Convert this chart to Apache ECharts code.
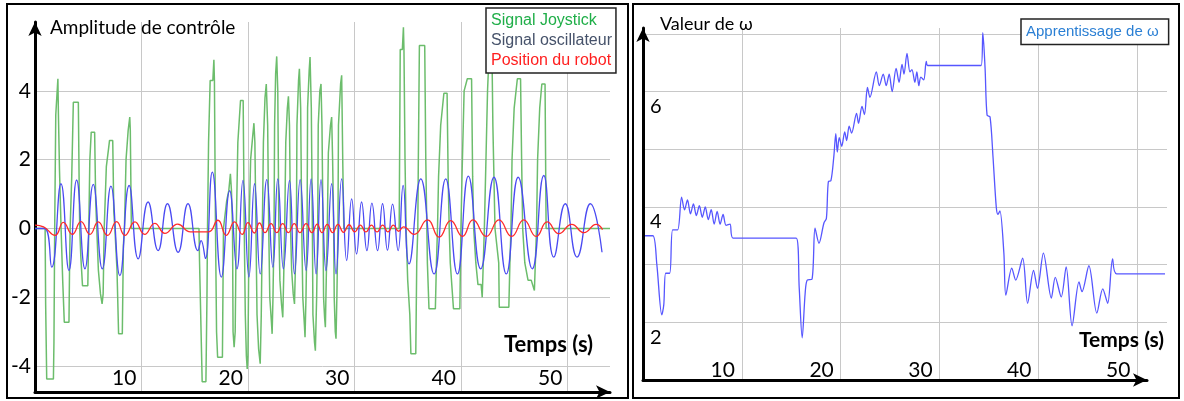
<!DOCTYPE html>
<html>
<head>
<meta charset="utf-8">
<script src="https://cdn.jsdelivr.net/npm/echarts@6/dist/echarts.min.js"></script>
<style>
html,body{margin:0;padding:0;background:#fff;}
#chart{width:1184px;height:401px;}
</style>
</head>
<body>
<div id="chart"></div>
<script>
// ---------- DATA ----------
// Left panel: time (s) / amplitude pairs
const joystick = [
 [0,0],[0.95,0],
 [1.0,-2.2],[1.1,-4.37],[1.73,-4.37],[1.78,-3.3],[1.85,0],
 [1.95,3.3],[2.1,3.3],[2.15,4.35],[2.2,3.3],[2.3,1.7],[2.45,0],
 [2.6,-1.5],[2.75,-2.72],[3.19,-2.72],[3.25,-1.0],[3.3,0],
 [3.45,1.5],[3.6,3.67],[4.07,3.67],[4.15,1.2],[4.2,0],
 [4.3,-0.8],[4.46,-1.66],[4.96,-1.66],[5.05,0],
 [5.15,2.0],[5.28,2.8],[5.6,2.8],[5.7,0.8],[5.8,0],
 [5.95,-1.2],[6.15,-1.9],[6.3,-2.19],[6.4,-1.9],[6.5,0],
 [6.7,1.8],[6.9,2.3],[7.0,2.56],[7.3,2.56],[7.4,0.5],[7.5,0],
 [7.7,-1.2],[7.85,-3.06],[8.2,-3.06],[8.3,-0.5],[8.4,0],
 [8.55,2.0],[8.75,2.85],[8.9,3.24],[8.95,2.85],[9.05,0],
 [15.4,0],
 [15.45,-0.93],[15.7,-4.45],[16.05,-4.45],[16.15,-2.0],[16.2,0],
 [16.3,2.5],[16.45,4.3],[16.7,4.3],[16.8,4.9],[16.85,4.3],[16.95,0],
 [17.05,-3.0],[17.15,-3.74],[17.6,-3.74],[17.7,0],
 [18.0,0.8],[18.2,1.1],[18.35,1.59],[18.45,1.1],[18.55,0],
 [18.6,-3.0],[18.7,-3.45],[18.8,-3.0],[18.9,0],
 [19.05,2.5],[19.3,3.72],[19.55,3.72],[19.65,0],
 [19.75,-2.5],[19.85,-3.7],[19.93,-4.08],[20.0,-3.7],[20.1,0],
 [20.25,2.0],[20.45,2.7],[20.56,3.06],[20.65,2.5],[20.75,0],
 [20.85,-2.5],[21.0,-3.5],[21.15,-3.93],[21.25,-2.5],[21.35,0],
 [21.45,2.5],[21.6,3.8],[21.72,4.2],[21.85,3.0],[21.95,0],
 [22.05,-2.0],[22.2,-2.7],[22.27,-3.06],[22.35,-2.0],[22.45,0],
 [22.5,3.0],[22.6,4.5],[22.7,5.0],[22.8,4.0],[22.9,0],
 [23.0,-1.5],[23.15,-2.2],[23.27,-2.58],[23.35,-1.5],[23.45,0],
 [23.55,2.5],[23.7,3.5],[23.8,3.84],[23.9,3.0],[24.0,0],
 [24.1,-1.2],[24.25,-1.9],[24.37,-2.19],[24.45,-1.2],[24.55,0],
 [24.6,3.0],[24.75,4.3],[24.83,4.64],[24.95,3.5],[25.05,0],
 [25.15,-2.0],[25.3,-2.8],[25.36,-3.16],[25.45,-2.0],[25.55,0],
 [25.6,3.5],[25.75,4.6],[25.83,4.98],[25.95,3.5],[26.05,0],
 [26.1,-2.5],[26.25,-3.3],[26.33,-3.55],[26.45,-2.0],[26.55,0],
 [26.6,3.0],[26.75,4.0],[26.86,4.2],[26.95,3.0],[27.05,0],
 [27.1,-2.0],[27.2,-2.6],[27.27,-2.87],[27.35,-1.5],[27.45,0],
 [27.55,2.2],[27.75,3.0],[27.86,3.24],[27.95,2.0],[28.05,0],
 [28.1,-2.0],[28.2,-3.0],[28.27,-3.2],[28.35,-2.0],[28.45,0],
 [28.5,3.0],[28.7,4.2],[28.8,4.45],[28.9,2.0],[29.0,0],
 [34.2,0],
 [34.25,2.5],[34.3,5.2],[34.5,5.2],[34.6,5.85],[34.65,5.2],[34.75,2.0],[34.85,0],
 [35.0,-1.5],[35.2,-2.5],[35.3,-3.64],[35.76,-3.64],[35.85,-1.0],[35.95,0],
 [36.0,2.0],[36.1,5.32],[36.6,5.32],[36.7,2.0],[36.8,0],
 [36.85,-1.0],[37.0,-2.33],[37.6,-2.33],[37.7,-1.0],[37.8,0],
 [37.9,1.5],[38.1,3.0],[38.4,3.93],[38.7,3.93],[38.8,1.5],[38.9,0],
 [39.0,-1.0],[39.3,-2.33],[39.9,-2.33],[40.0,0],
 [40.1,1.5],[40.3,4.0],[40.6,4.35],[41.0,4.35],[41.1,1.5],[41.2,0],
 [41.4,-1.0],[41.6,-1.63],[41.9,-1.63],[42.0,-2.0],[42.15,-2.0],[42.2,0],
 [42.35,2.0],[42.5,4.0],[42.7,5.5],[42.9,5.5],[43.0,3.0],[43.2,0],
 [43.55,-1.0],[43.6,-2.29],[44.5,-2.29],[44.6,-1.0],[44.7,0],
 [44.8,2.0],[45.0,3.5],[45.3,4.35],[45.6,4.35],[45.7,2.0],[45.8,0],
 [46.0,-1.0],[46.3,-1.5],[46.6,-1.5],[46.9,-1.8],[47.0,-1.8],[47.1,0],
 [47.2,2.0],[47.4,3.5],[47.6,4.2],[47.9,4.2],[48.0,0],
 [54,0]
];

const oscillator = [
 [0,0],[0.9,0],[1.57,-1.12],[2.44,1.3],[3.19,-1.22],[3.91,1.41],[4.69,-1.17],[5.47,1.28],
 [6.32,-1.17],[7.13,1.23],[7.97,-1.37],[8.84,1.25],[9.69,-0.88],[10.62,0.77],[11.56,-0.64],
 [12.44,0.72],[13.44,-0.69],[14.37,0.72],[15.3,-0.64],[15.6,-0.35],[16.0,-0.87],[16.65,1.64],
 [17.5,-1.41],[18.28,1.1],[18.96,-1.17],[19.53,1.4],[20.09,-1.41],[20.62,1.3],[21.15,-1.32],
 [21.77,1.42],[22.34,-1.12],[22.8,1.44],[23.33,-1.17],[23.9,1.4],[24.37,-1.32],[24.9,1.42],
 [25.46,-1.22],[25.93,1.44],[26.4,-1.32],[26.86,1.42],[27.33,-1.22],[27.86,1.3],[28.27,-1.32],
 [28.8,1.44],[29.27,-0.93],[29.74,0.86],[30.2,-0.74],[30.67,0.77],[31.17,-0.64],[31.64,0.74],
 [32.17,-0.64],[32.64,0.72],[33.1,-0.63],[33.58,0.71],[34.1,-0.64],[34.57,1.25],[35.13,-1.03],
 [36.23,1.44],[37.48,-1.32],[38.57,1.44],[39.67,-1.32],[40.7,1.52],[41.85,-1.17],[43.1,1.49],
 [44.26,-1.32],[45.38,1.49],[46.7,-1.17],[47.78,1.54],[48.72,-0.83],[49.8,0.72],[50.9,-0.83],
 [52.15,0.72],[53.25,-0.69]
];

const robot = [
 [0,0.1],[0.8,0.05],[1.88,-0.2],[2.66,0.18],[3.5,-0.17],[4.32,0.2],[5.16,-0.17],[5.94,0.19],
 [6.81,-0.2],[7.66,0.2],[8.44,-0.2],[9.38,0.19],[10.3,-0.17],[11.25,0.15],[12.2,-0.14],
 [13.4,0.13],[14.6,-0.1],[15.3,-0.1],[16.3,-0.1],[17.18,0.24],[17.96,-0.2],[18.74,0.19],
 [19.46,-0.17],[20.0,0.17],[20.6,-0.13],[21.08,0.16],[21.6,-0.12],[22.17,0.14],[22.7,-0.12],
 [23.26,0.14],[23.8,-0.12],[24.35,0.14],[24.88,-0.12],[25.46,0.14],[26.0,-0.12],[26.5,0.13],
 [26.95,-0.12],[27.45,0.12],[27.95,-0.12],[28.45,0.12],[28.97,-0.11],[29.5,0.11],[30.02,-0.1],
 [30.55,0.1],[31.07,-0.1],[31.6,0.1],[32.12,-0.1],[32.65,0.1],[33.15,-0.1],[33.65,0.1],
 [34.15,-0.08],[34.6,0.05],[35.6,-0.17],[36.86,0.25],[37.95,-0.25],[39.04,0.23],[40.14,-0.23],
 [41.13,0.25],[42.38,-0.23],[43.57,0.25],[44.76,-0.23],[45.9,0.25],[47.07,-0.23],[48.1,0.19],
 [49.2,-0.15],[50.4,0.12],[51.56,-0.12],[52.7,0.12],[53.3,-0.03]
];

// Right panel: time (s) / omega pairs
const omega = [
 [0.2,3.5],[1.0,3.5],[1.4,3.0],[1.9,2.13],[2.1,2.3],[2.3,2.85],[2.7,2.85],[3.0,3.6],[3.5,3.6],
 [3.9,4.17],[4.2,3.95],[4.5,4.12],[4.8,3.88],[5.1,4.05],[5.4,3.85],[5.7,4.02],[6.0,3.82],
 [6.3,4.0],[6.6,3.78],[6.9,3.95],[7.2,3.7],[7.5,3.92],[7.8,3.7],[8.1,3.87],[8.4,3.68],
 [8.8,3.7],[9.1,3.46],[15.5,3.46],[15.8,2.6],[16.1,1.73],[16.4,2.5],[16.6,2.73],[17.1,2.75],
 [17.4,3.63],[17.8,3.37],[18.3,3.72],[18.55,3.8],[18.75,4.44],[19.0,4.45],[19.3,4.87],
 [19.5,5.27],[19.65,4.95],[19.85,5.2],[20.1,5.05],[20.4,5.3],[20.6,5.15],[20.85,5.4],
 [21.1,5.28],[21.6,5.62],[21.8,5.45],[22.15,5.74],[22.4,5.6],[22.7,6.07],[22.95,5.9],
 [23.6,6.34],[23.9,6.1],[24.3,6.3],[24.6,6.1],[24.9,6.3],[25.2,6.0],[25.6,6.4],[25.9,6.16],
 [26.2,6.47],[26.4,6.3],[26.7,6.66],[27.0,6.34],[27.2,6.38],[27.5,6.16],[27.7,6.34],
 [27.9,6.1],[28.1,6.25],[28.4,6.2],[28.65,6.52],[28.8,6.45],[34.2,6.45],[34.37,7.02],
 [34.6,6.4],[34.8,5.59],[35.1,5.56],[35.4,4.87],[35.73,4.0],[35.9,3.87],[36.1,3.93],
 [36.5,3.2],[36.7,2.47],[37.3,2.94],[37.7,2.73],[38.4,3.11],[38.9,2.33],[39.5,2.9],
 [39.9,2.59],[40.5,3.2],[41.3,2.42],[41.7,2.78],[42.3,2.44],[42.8,2.96],[43.4,1.94],
 [44.1,2.7],[44.4,2.53],[45.1,2.98],[45.9,2.16],[46.5,2.58],[47.0,2.33],[47.5,3.1],
 [47.9,2.84],[52.8,2.84]
];

// Tick labels
const xTickLabels = ['10','20','30','40','50'];
const yTickLabelsLeft = ['-4','-2','0','2','4'];
const yTickLabelsRight = ['2','4','6'];

// ---------- CHART ----------
const chart = echarts.init(document.getElementById('chart'), null, {renderer:'canvas'});
const NUM_FONT = 'Lato';
const arrowLine = {show:true, onZero:false, symbol:['none','arrow'], symbolSize:[10,14],
  lineStyle:{color:'#000', width:3}};
const gridLine = {show:true, showMinLine:false, showMaxLine:false, lineStyle:{color:'#c8c8c8', width:1}};

chart.setOption({
  animation:false,
  backgroundColor:'#fff',
  title:[
    {text:'Amplitude de contrôle', left:50, top:18, padding:0,
     textStyle:{fontSize:19, fontWeight:'normal', fontFamily:'Lato', color:'#000'}},
    {text:'Valeur de ω', left:660, top:15, padding:0,
     textStyle:{fontSize:18, fontWeight:'normal', fontFamily:'Lato', color:'#000'}},
    {text:'Temps (s)', left:504, top:334, padding:0,
     textStyle:{fontSize:22, fontWeight:'bold', fontFamily:'Lato', color:'#000'}},
    {text:'Temps (s)', left:1079, top:330, padding:0,
     textStyle:{fontSize:21, fontWeight:'bold', fontFamily:'Lato', color:'#000'}}
  ],
  legend:[
    {orient:'vertical', left:486, top:8, icon:'none', itemWidth:0, itemHeight:15, itemGap:4,
     padding:[5,4,4,0], borderColor:'#222', borderWidth:1.5, backgroundColor:'#fff',
     selectedMode:false,
     textStyle:{fontSize:16, fontFamily:'Liberation Sans'},
     data:[{name:'Signal Joystick', textStyle:{color:'#1fae48'}},
           {name:'Signal oscillateur', textStyle:{color:'#46526a'}},
           {name:'Position du robot', textStyle:{color:'#ff1f1f'}}]},
    {orient:'vertical', left:1021, top:19, icon:'none', itemWidth:0, itemHeight:16,
     padding:[5,10,5,0], borderColor:'#222', borderWidth:1.5, backgroundColor:'#fff',
     selectedMode:false,
     textStyle:{fontSize:15, fontFamily:'Liberation Sans'},
     data:[{name:'Apprentissage de ω', textStyle:{color:'#2a7fd4'}}]}
  ],
  grid:[
    {left:35, top:22, width:575, height:370},
    {left:643, top:28, width:524, height:352},
    {left:643, top:28, width:504, height:352}
  ],
  xAxis:[
    {gridIndex:0, type:'value', min:0, max:54, interval:10,
     axisLine:arrowLine, axisTick:{show:false}, splitLine:gridLine,
     axisLabel:{inside:true, align:'right', padding:[0,5,0,0], margin:3, fontSize:21,
       fontFamily:NUM_FONT, color:'#000',
       formatter:v => xTickLabels.includes(String(v)) ? String(v) : ''}},
    {gridIndex:1, type:'value', min:0, max:53, interval:10,
     axisLine:{show:false}, axisTick:{show:false}, splitLine:gridLine,
     axisLabel:{inside:true, align:'right', padding:[0,7,0,0], margin:-1, fontSize:21,
       fontFamily:NUM_FONT, color:'#000',
       formatter:v => xTickLabels.includes(String(v)) ? String(v) : ''}},
    {gridIndex:2, type:'value', min:0, max:51,
     axisLine:arrowLine, axisTick:{show:false}, splitLine:{show:false}, axisLabel:{show:false}}
  ],
  yAxis:[
    {gridIndex:0, type:'value', min:-4.75, max:6, splitNumber:5,
     axisLine:arrowLine, axisTick:{show:false}, splitLine:gridLine,
     axisLabel:{margin:4, fontSize:21, fontFamily:NUM_FONT, color:'#000',
       formatter:v => yTickLabelsLeft.includes(String(v)) ? String(v) : ''}},
    {gridIndex:1, type:'value', min:1, max:7.1, interval:1,
     axisLine:arrowLine, axisTick:{show:false},
     splitLine:{show:true, showMinLine:false, showMaxLine:false, lineStyle:{color:'#c8c8c8', width:1}},
     axisLabel:{inside:true, align:'left', verticalAlign:'top', margin:7, padding:[5,0,0,0],
       fontSize:20, fontFamily:NUM_FONT, color:'#000',
       formatter:v => yTickLabelsRight.includes(String(v)) ? String(v) : ''}},
    {gridIndex:2, type:'value', min:1, max:7.1, show:false}
  ],
  graphic:[
    {type:'rect', shape:{x:7, y:4, width:621, height:394}, z:-1,
     style:{fill:'none', stroke:'#000', lineWidth:2}},
    {type:'rect', shape:{x:633, y:4, width:546, height:394}, z:-1,
     style:{fill:'none', stroke:'#000', lineWidth:2}}
  ],
  series:[
    {name:'Signal Joystick', type:'line', xAxisIndex:0, yAxisIndex:0, data:joystick,
     showSymbol:false, lineStyle:{color:'#6cbd6c', width:1.5}, itemStyle:{color:'#6cbd6c'}, z:2},
    {name:'Signal oscillateur', type:'line', xAxisIndex:0, yAxisIndex:0, data:oscillator,
     smooth:0.5, showSymbol:false, lineStyle:{color:'#4a4af2', width:1.3}, itemStyle:{color:'#4a4af2'}, z:3},
    {name:'Position du robot', type:'line', xAxisIndex:0, yAxisIndex:0, data:robot,
     smooth:0.5, showSymbol:false, lineStyle:{color:'#ff2a2a', width:1.3}, itemStyle:{color:'#ff2a2a'}, z:4},
    {name:'Apprentissage de ω', type:'line', xAxisIndex:1, yAxisIndex:1, data:omega,
     smooth:0.3, showSymbol:false, lineStyle:{color:'#5656ff', width:1.3}, itemStyle:{color:'#5656ff'}, z:3}
  ]
});
</script>
</body>
</html>
